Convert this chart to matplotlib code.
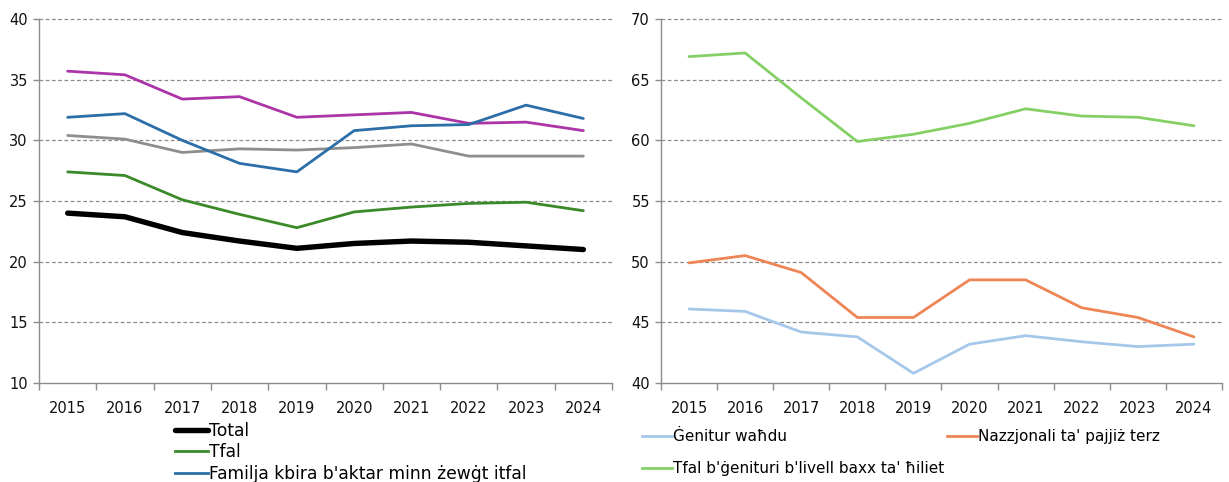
import matplotlib
matplotlib.use("Agg")
import matplotlib.pyplot as plt
from matplotlib.lines import Line2D

years = ["2015", "2016", "2017", "2018", "2019", "2020", "2021", "2022", "2023", "2024"]

# Left panel
total = [24.0, 23.7, 22.4, 21.7, 21.1, 21.5, 21.7, 21.6, 21.3, 21.0]
tfal = [27.4, 27.1, 25.1, 23.9, 22.8, 24.1, 24.5, 24.8, 24.9, 24.2]
familja_kbira = [31.9, 32.2, 30.0, 28.1, 27.4, 30.8, 31.2, 31.3, 32.9, 31.8]
magenta_series = [35.7, 35.4, 33.4, 33.6, 31.9, 32.1, 32.3, 31.4, 31.5, 30.8]
grey_series = [30.4, 30.1, 29.0, 29.3, 29.2, 29.4, 29.7, 28.7, 28.7, 28.7]

# Right panel
genitur_wahdu = [46.1, 45.9, 44.2, 43.8, 40.8, 43.2, 43.9, 43.4, 43.0, 43.2]
nazzjonali = [49.9, 50.5, 49.1, 45.4, 45.4, 48.5, 48.5, 46.2, 45.4, 43.8]
tfal_hiliet = [66.9, 67.2, 63.5, 59.9, 60.5, 61.4, 62.6, 62.0, 61.9, 61.2]

left_ticks = [10, 15, 20, 25, 30, 35, 40]
right_ticks = [40, 45, 50, 55, 60, 65, 70]

plt.rcParams['font.family'] = ['DejaVu Sans']
W, H = 1229, 482
fig = plt.figure(figsize=(W / 100, H / 100), dpi=100)

def px_axes(x0, x1, ytop, ybot):
    return fig.add_axes([x0 / W, (H - ybot) / H, (x1 - x0) / W, (ybot - ytop) / H])

def style(ax, ticks):
    ax.set_xlim(-0.5, len(years) - 0.5)
    ax.set_ylim(ticks[0], ticks[-1])
    ax.set_yticks(ticks)
    ax.set_xticks(range(len(years)))
    ax.set_xticklabels(years)
    ax.set_xticks([i - 0.5 for i in range(len(years) + 1)], minor=True)
    ax.tick_params(axis='x', which='major', length=0, pad=13, labelsize=10.5, colors='#111111')
    ax.tick_params(axis='x', which='minor', length=5, width=1, color='#8c8c8c', direction='out')
    ax.tick_params(axis='y', length=4, width=1, color='#8c8c8c', pad=4, labelsize=10.5, labelcolor='#111111')
    for s in ['top', 'right']:
        ax.spines[s].set_visible(False)
    for s in ['left', 'bottom']:
        ax.spines[s].set_color('#8c8c8c')
        ax.spines[s].set_linewidth(1)
    for t in ticks[1:]:
        ax.axhline(t, color='#8c8c8c', lw=0.9, ls=(0, (3, 2)), zorder=0, clip_on=False)

x = list(range(len(years)))

ax1 = px_axes(39, 612, 19, 383)
style(ax1, left_ticks)
ax1.plot(x, grey_series, color='#8e8e8e', lw=2.0, solid_capstyle='round')
ax1.plot(x, magenta_series, color='#ac34a8', lw=2.0, solid_capstyle='round')
ax1.plot(x, familja_kbira, color='#2b6ea8', lw=2.0, solid_capstyle='round')
ax1.plot(x, tfal, color='#3a8a2a', lw=2.0, solid_capstyle='round')
ax1.plot(x, total, color='#000000', lw=3.9, solid_capstyle='round')

ax2 = px_axes(661, 1222, 19, 383)
style(ax2, right_ticks)
ax2.plot(x, genitur_wahdu, color='#a5c8ea', lw=2.0, solid_capstyle='round')
ax2.plot(x, nazzjonali, color='#ee8555', lw=2.0, solid_capstyle='round')
ax2.plot(x, tfal_hiliet, color='#85d066', lw=2.0, solid_capstyle='round')

leg_kw = dict(frameon=False, borderpad=0, borderaxespad=0,
              handlelength=1.95, handletextpad=0.05, loc='upper left')

h_left = [Line2D([], [], color='#000000', lw=3.9, solid_capstyle='round'),
          Line2D([], [], color='#3a8a2a', lw=2.0),
          Line2D([], [], color='#2b6ea8', lw=2.0)]
fig.legend(h_left, ["Total", "Tfal", "Familja kbira b'aktar minn żewġt itfal"],
           bbox_to_anchor=(175 / W, (H - 422) / H), labelspacing=0.2,
           fontsize=12.3, **leg_kw)

h_r1 = [Line2D([], [], color='#a5c8ea', lw=2.0),
        Line2D([], [], color='#85d066', lw=2.0)]
fig.legend(h_r1, ["Ġenitur waħdu", "Tfal b'ġenituri b'livell baxx ta' ħiliet"],
           bbox_to_anchor=(642 / W, (H - 429) / H), labelspacing=1.13,
           fontsize=11, **leg_kw)
h_r2 = [Line2D([], [], color='#ee8555', lw=2.0)]
fig.legend(h_r2, ["Nazzjonali ta' pajjiż terz"],
           bbox_to_anchor=(947 / W, (H - 429) / H), fontsize=11, **leg_kw)

fig.savefig("out.png", dpi=100)
